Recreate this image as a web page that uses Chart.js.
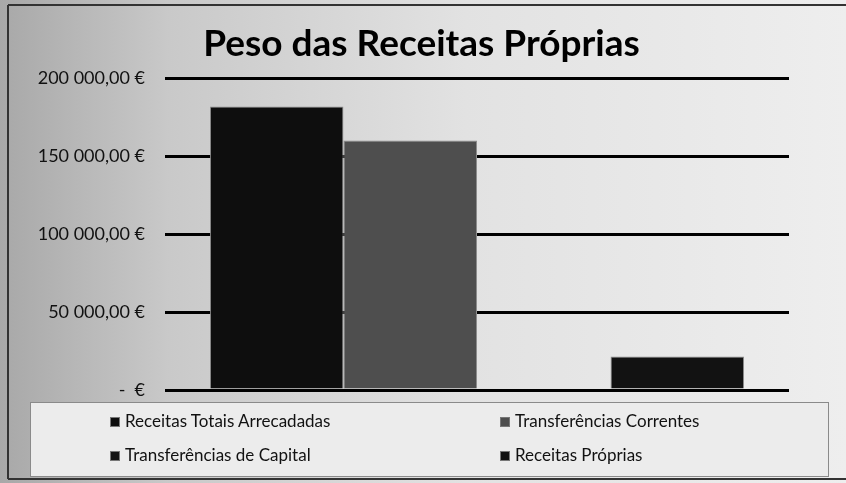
<!DOCTYPE html>
<html>
<head>
<meta charset="utf-8">
<script src="https://cdn.jsdelivr.net/npm/chart.js@4"></script>
<style>
  body { margin: 0; background: #ffffff; }
  .wrap { position: relative; width: 846px; height: 483px; }
  #chartCanvas { position: absolute; left: 0; top: 0; }
  .legend { position: absolute; left: 30px; top: 402px; width: 798px; height: 74px;
            font-family: Lato, "Noto Sans", sans-serif; font-size: 17px; color: #111; }
  .legend .item { position: absolute; white-space: nowrap; line-height: 20px; }
  .legend .box { display: inline-block; width: 10px; height: 10px; margin-right: 5px;
                 vertical-align: 0px; border: 1px solid #777; box-sizing: border-box; }
</style>
</head>
<body>
<div class="wrap">
  <canvas id="chartCanvas" width="846" height="483"></canvas>
  <div class="legend" id="legend"></div>
</div>
<script>
var categories = [''];
var seriesNames = ['Receitas Totais Arrecadadas', 'Transferências Correntes', 'Transferências de Capital', 'Receitas Próprias'];
var receitasTotais = [181800];
var transfCorrentes = [160000];
var transfCapital = [0];
var receitasProprias = [21400];
var yTicks = [0, 50000, 100000, 150000, 200000];

var seriesValues = [receitasTotais, transfCorrentes, transfCapital, receitasProprias];
var seriesColors = ['#0e0e0e', '#4e4e4e', '#151515', '#121212'];
var legendPos = [[80, 9], [470, 9], [80, 43], [470, 43]];

function euro(v) {
    if (v === 0) return '-  €';
    var s = String(Math.round(v));
    s = s.replace(/\B(?=(\d{3})+(?!\d))/g, ' ');
    return s + ',00 €';
}

// fundo cinzento tipo digitalizacao + caixa da legenda
var backgroundPlugin = {
    id: 'scanBackground',
    beforeDraw: function (chart) {
        var c = chart.ctx;
        c.save();
        var g = c.createLinearGradient(0, 0, chart.width, 0);
        g.addColorStop(0, '#a8a8a8');
        g.addColorStop(0.2, '#c9c9c9');
        g.addColorStop(0.55, '#e2e2e2');
        g.addColorStop(1, '#eeeeee');
        c.fillStyle = g;
        c.fillRect(0, 0, chart.width, chart.height);
        c.fillStyle = '#ececec';
        c.fillRect(30, 402, 798, 74);
        c.strokeStyle = '#8a8a8a';
        c.lineWidth = 1;
        c.strokeRect(30.5, 402.5, 798, 74);
        c.strokeStyle = '#333';
        c.lineWidth = 2;
        c.beginPath();
        c.moveTo(8, 5); c.lineTo(846, 5);
        c.moveTo(8, 5); c.lineTo(8, 479);
        c.moveTo(8, 479); c.lineTo(846, 479);
        c.stroke();
        c.restore();
    }
};

var datasets = [];
for (var i = 0; i < seriesNames.length; i++) {
    datasets.push({
        label: seriesNames[i],
        data: seriesValues[i],
        backgroundColor: seriesColors[i],
        borderColor: '#8c8c8c',
        borderWidth: 1
    });
}

var ctx = document.getElementById('chartCanvas').getContext('2d');
var myChart = new Chart(ctx, {
    type: 'bar',
    data: { labels: categories, datasets: datasets },
    plugins: [backgroundPlugin],
    options: {
        responsive: false,
        animation: false,
        layout: { padding: { left: 20, right: 23, top: 0, bottom: 93 } },
        datasets: { bar: { categoryPercentage: 0.856, barPercentage: 1 } },
        plugins: {
            legend: { display: false },
            tooltip: { enabled: false },
            title: {
                display: true,
                text: 'Peso das Receitas Próprias',
                color: '#000',
                font: { family: 'Lato', size: 37, weight: 'bold' },
                padding: { top: 22, bottom: 11.6 }
            }
        },
        scales: {
            x: { display: false },
            y: {
                min: 0,
                max: 200000,
                afterFit: function (axis) { axis.width = 145; },
                afterBuildTicks: function (axis) {
                    axis.ticks = yTicks.map(function (v) { return { value: v }; });
                },
                border: { display: false },
                grid: { color: '#000', lineWidth: 3, drawTicks: false },
                ticks: {
                    padding: 20,
                    color: '#111',
                    font: { family: 'Lato', size: 18 },
                    callback: function (v) { return euro(v); }
                }
            },
            // eixo vazio so para deixar a margem direita
            yRight: {
                position: 'right',
                afterFit: function (axis) { axis.width = 34; },
                border: { display: false },
                grid: { drawOnChartArea: false, drawTicks: false },
                ticks: { display: false }
            }
        }
    }
});

var legend = document.getElementById('legend');
for (var j = 0; j < seriesNames.length; j++) {
    var item = document.createElement('div');
    item.className = 'item';
    item.style.left = legendPos[j][0] + 'px';
    item.style.top = legendPos[j][1] + 'px';
    var box = document.createElement('span');
    box.className = 'box';
    box.style.background = seriesColors[j];
    item.appendChild(box);
    item.appendChild(document.createTextNode(seriesNames[j]));
    legend.appendChild(item);
}
</script>
</body>
</html>
